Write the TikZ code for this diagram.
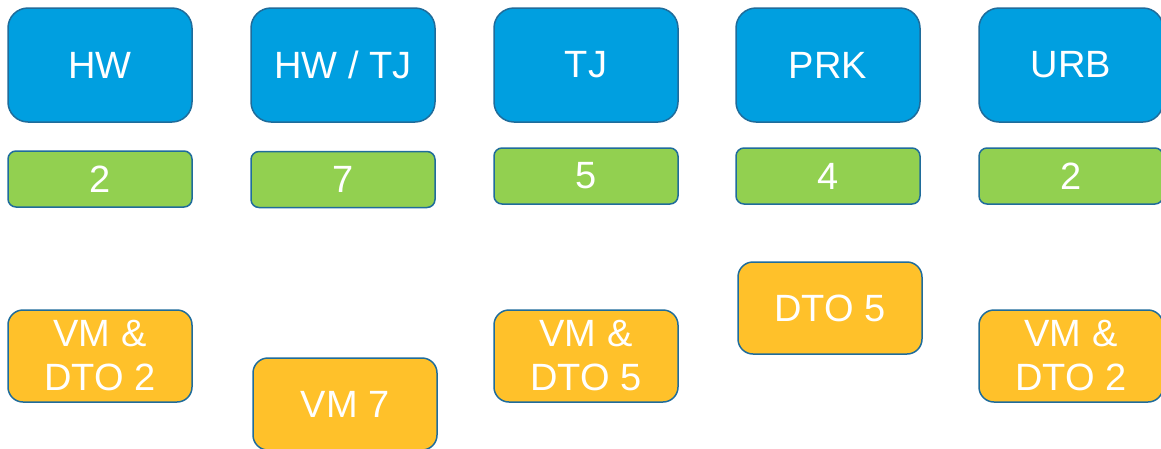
\documentclass[tikz,border=0pt]{standalone}
\usepackage{fontspec}
\setmainfont{Liberation Sans}
\definecolor{bluefill}{RGB}{0,159,224}
\definecolor{greenfill}{RGB}{146,208,80}
\definecolor{orangefill}{RGB}{255,193,42}
\definecolor{edgeblue}{RGB}{31,108,155}
\begin{document}
\begin{tikzpicture}[x=1pt,y=-1pt,
  basebox/.style={draw=edgeblue, line width=1.5pt, inner sep=0pt, text=white,
    align=center, font=\fontsize{38}{44}\selectfont, minimum width=184pt},
  topbox/.style={basebox, fill=bluefill, rounded corners=20pt, minimum height=114pt},
  countbox/.style={basebox, fill=greenfill, rounded corners=8pt, minimum height=56pt},
  vmbox/.style={basebox, fill=orangefill, rounded corners=15pt, minimum height=92pt}]
\useasboundingbox (0,0) rectangle (1161,448);
% top row
\node[topbox] (hw)   at (100,65) {\raisebox{-2pt}{HW}};
\node[topbox] (hwtj) at (343,65) {\raisebox{-2pt}{HW / TJ}};
\node[topbox] (tj)   at (586,65) {\raisebox{-2pt}{TJ}};
\node[topbox] (prk)  at (828,65) {\raisebox{-2pt}{PRK}};
\node[topbox] (urb)  at (1071,65) {\raisebox{-2pt}{URB}};
% counts
\node[countbox] (chw)   at (100,179) {2};
\node[countbox] (chwtj) at (343,179.5) {7};
\node[countbox] (ctj)   at (586,176) {5};
\node[countbox] (cprk)  at (828,176) {4};
\node[countbox] (curb)  at (1071,176) {2};
% bottom
\node[vmbox] (vhw)   at (100,356) {VM \&\\DTO 2};
\node[vmbox] (vhwtj) at (345,404) {VM 7};
\node[vmbox] (vtj)   at (586,356) {VM \&\\DTO 5};
\node[vmbox] (vprk)  at (830,308) {DTO 5};
\node[vmbox] (vurb)  at (1071,356) {VM \&\\DTO 2};
\end{tikzpicture}
\end{document}
